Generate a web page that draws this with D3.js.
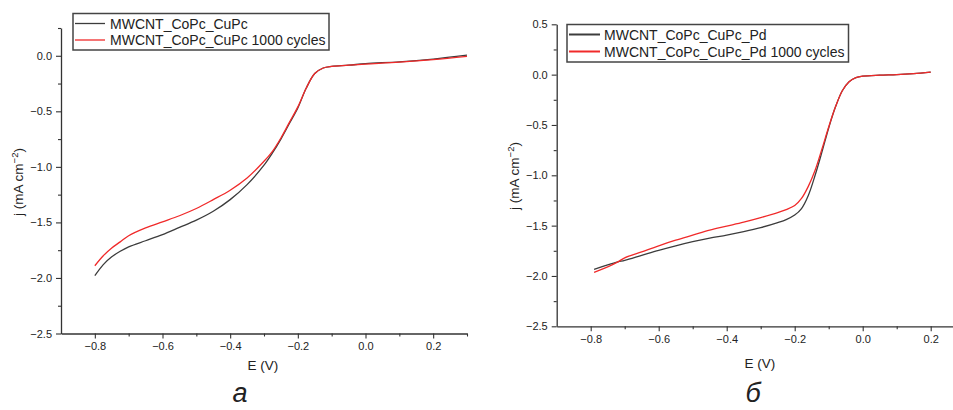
<!DOCTYPE html>
<html>
<head>
<meta charset="utf-8">
<script src="https://cdn.jsdelivr.net/npm/d3@7"></script>
<style>
  html, body { margin: 0; padding: 0; background: #fff; }
  svg { display: block; }
  text { font-family: "Liberation Sans", Arial, sans-serif; fill: #222; }
</style>
</head>
<body>
<svg id="chart" width="953" height="410"></svg>
<script>
// ---- Panel а: MWCNT_CoPc_CuPc, before / after 1000 cycles ----
const ePotA  = [-0.80, -0.775, -0.75, -0.725, -0.70, -0.65, -0.60, -0.55, -0.50, -0.45, -0.40, -0.35, -0.30, -0.275, -0.25, -0.225, -0.20, -0.175, -0.15, -0.125, -0.10, -0.05, 0.00, 0.10, 0.20, 0.30];
const jBaseA = [-1.98, -1.88, -1.81, -1.76, -1.72, -1.665, -1.61, -1.545, -1.48, -1.40, -1.295, -1.16, -0.985, -0.875, -0.75, -0.61, -0.47, -0.29, -0.16, -0.11, -0.095, -0.085, -0.07, -0.055, -0.03, 0.005];
const jCycA  = [-1.89, -1.80, -1.73, -1.675, -1.62, -1.55, -1.495, -1.44, -1.375, -1.295, -1.21, -1.10, -0.95, -0.86, -0.74, -0.60, -0.46, -0.29, -0.16, -0.11, -0.095, -0.085, -0.075, -0.058, -0.035, -0.005];

// ---- Panel б: MWCNT_CoPc_CuPc_Pd, before / after 1000 cycles ----
const ePotB  = [-0.79, -0.75, -0.72, -0.70, -0.65, -0.60, -0.55, -0.50, -0.45, -0.40, -0.35, -0.30, -0.25, -0.225, -0.20, -0.18, -0.16, -0.14, -0.12, -0.10, -0.08, -0.06, -0.04, -0.02, 0.00, 0.05, 0.10, 0.15, 0.20];
const jBaseB = [-1.935, -1.89, -1.86, -1.845, -1.795, -1.745, -1.70, -1.66, -1.625, -1.595, -1.56, -1.52, -1.47, -1.44, -1.395, -1.33, -1.20, -1.00, -0.77, -0.53, -0.32, -0.16, -0.07, -0.03, -0.015, -0.005, 0.00, 0.01, 0.025];
const jCycB  = [-1.965, -1.91, -1.86, -1.82, -1.76, -1.70, -1.645, -1.595, -1.545, -1.505, -1.465, -1.42, -1.37, -1.34, -1.30, -1.23, -1.11, -0.95, -0.74, -0.52, -0.32, -0.16, -0.07, -0.03, -0.015, -0.005, 0.00, 0.01, 0.025];

// ---- Axis ticks and labels ----
const xTicks      = [-0.8, -0.6, -0.4, -0.2, 0.0, 0.2];
const xMinorTicks = [-0.9, -0.7, -0.5, -0.3, -0.1, 0.1, 0.3];
const yTicks      = [-2.5, -2.0, -1.5, -1.0, -0.5, 0.0];
const yTicksB     = [-2.5, -2.0, -1.5, -1.0, -0.5, 0.0, 0.5];
const yMinorTicks = [-2.25, -1.75, -1.25, -0.75, -0.25, 0.25];
const legendA  = ["MWCNT_CoPc_CuPc", "MWCNT_CoPc_CuPc 1000 cycles"];
const legendB  = ["MWCNT_CoPc_CuPc_Pd", "MWCNT_CoPc_CuPc_Pd 1000 cycles"];
const captions = ["а", "б"];
const xTitle = "E (V)";

const colBase = "#3c3c3c";
const colCyc  = "#f02a2a";
const axisCol = "#333";

const svg = d3.select("#chart");
const fmt = d => (d < 0 ? "\u2212" : "") + Math.abs(d).toFixed(1);

function drawPanel(p) {
  const x = d3.scaleLinear().domain(p.xDomain).range(p.xRange);
  const y = d3.scaleLinear().domain(p.yDomain).range(p.yRange);
  const g = svg.append("g");

  // clip so the curves stay inside the plotting area
  const clipId = "clip" + p.id;
  svg.append("clipPath").attr("id", clipId)
    .append("rect")
    .attr("x", p.xRange[0]).attr("y", p.yRange[1])
    .attr("width", p.xRange[1] - p.xRange[0])
    .attr("height", p.yRange[0] - p.yRange[1]);

  // x axis: major + minor ticks
  g.append("g").attr("transform", `translate(0,${p.yRange[0]})`)
    .call(d3.axisBottom(x).tickValues(xTicks).tickFormat(fmt).tickSize(5).tickSizeOuter(0).tickPadding(4));
  g.append("g").attr("transform", `translate(0,${p.yRange[0]})`)
    .call(d3.axisBottom(x).tickValues(xMinorTicks.filter(v => v > p.xDomain[0] && v <= p.xDomain[1])).tickFormat("").tickSize(3).tickSizeOuter(0))
    .select(".domain").remove();

  // y axis: major + minor ticks
  g.append("g").attr("transform", `translate(${p.xRange[0]},0)`)
    .call(d3.axisLeft(y).tickValues(p.yTicks).tickFormat(fmt).tickSize(5).tickSizeOuter(0).tickPadding(4));
  g.append("g").attr("transform", `translate(${p.xRange[0]},0)`)
    .call(d3.axisLeft(y).tickValues(yMinorTicks.filter(v => v >= p.yDomain[0] && v <= p.yDomain[1])).tickFormat("").tickSize(3).tickSizeOuter(0))
    .select(".domain").remove();

  g.selectAll(".domain").attr("stroke", axisCol).attr("stroke-width", 1.3);
  g.selectAll(".tick line").attr("stroke", axisCol).attr("stroke-width", 1.1);
  g.selectAll(".tick text").attr("font-size", 11).attr("fill", "#222")
    .attr("font-family", "Liberation Sans, Arial, sans-serif");

  // curves
  const line = d3.line().x(d => x(d[0])).y(d => y(d[1])).curve(d3.curveCatmullRom.alpha(0.5));
  const curves = g.append("g").attr("clip-path", `url(#${clipId})`);
  curves.append("path").datum(d3.zip(p.e, p.jBase))
    .attr("d", line).attr("fill", "none").attr("stroke", colBase).attr("stroke-width", 1.3);
  curves.append("path").datum(d3.zip(p.e, p.jCyc))
    .attr("d", line).attr("fill", "none").attr("stroke", colCyc).attr("stroke-width", 1.3);

  // axis titles
  g.append("text").attr("x", p.xTitlePos[0]).attr("y", p.xTitlePos[1])
    .attr("text-anchor", "middle").attr("font-size", 13.5).text(xTitle);
  const yt = g.append("text")
    .attr("transform", `translate(${p.yTitlePos[0]},${p.yTitlePos[1]}) rotate(-90)`)
    .attr("text-anchor", "middle").attr("font-size", 13.5);
  yt.append("tspan").text("j (mA cm");
  yt.append("tspan").attr("font-size", 9.5).attr("dy", -5).text("\u22122");
  yt.append("tspan").attr("dy", 5).text(")");

  // legend
  const L = p.legend;
  const lg = g.append("g");
  lg.append("rect").attr("x", L.x).attr("y", L.y).attr("width", L.w).attr("height", L.h)
    .attr("fill", "#fff").attr("stroke", "#444").attr("stroke-width", 1.5);
  [[p.labels[0], colBase], [p.labels[1], colCyc]].forEach(([lab, c], i) => {
    const cy = L.y + L.rows[i];
    lg.append("line").attr("x1", L.x + 2).attr("x2", L.x + L.sw).attr("y1", cy).attr("y2", cy)
      .attr("stroke", c).attr("stroke-width", L.lw);
    lg.append("text").attr("x", L.x + L.tx).attr("y", cy + 5).attr("font-size", 14).text(lab);
  });

  // panel caption
  g.append("text").attr("x", p.capPos[0]).attr("y", p.capPos[1])
    .attr("text-anchor", "middle").attr("font-size", 27)
    .attr("font-family", "Open Sans, sans-serif").attr("font-style", "italic")
    .attr("fill", "#111").text(p.caption);
}

drawPanel({
  id: "A",
  xDomain: [-0.9, 0.3], xRange: [61, 467],
  yDomain: [-2.5, 0.25], yRange: [333.5, 28],
  yTicks: yTicks,
  e: ePotA, jBase: jBaseA, jCyc: jCycA,
  labels: legendA,
  legend: { x: 73, y: 13.5, w: 256, h: 36.5, rows: [10, 26.5], sw: 32, tx: 37, lw: 1.3 },
  xTitlePos: [263, 370], yTitlePos: [23, 182],
  capPos: [240, 402], caption: captions[0]
});

drawPanel({
  id: "B",
  xDomain: [-0.9, 0.3], xRange: [556.7, 964.7],
  yDomain: [-2.5, 0.5], yRange: [326.3, 24.3],
  yTicks: yTicksB,
  e: ePotB, jBase: jBaseB, jCyc: jCycB,
  labels: legendB,
  legend: { x: 567, y: 24.5, w: 281.5, h: 37.5, rows: [10, 27], sw: 33, tx: 37, lw: 2 },
  xTitlePos: [760, 368], yTitlePos: [519, 176],
  capPos: [753, 402], caption: captions[1]
});
</script>
</body>
</html>
